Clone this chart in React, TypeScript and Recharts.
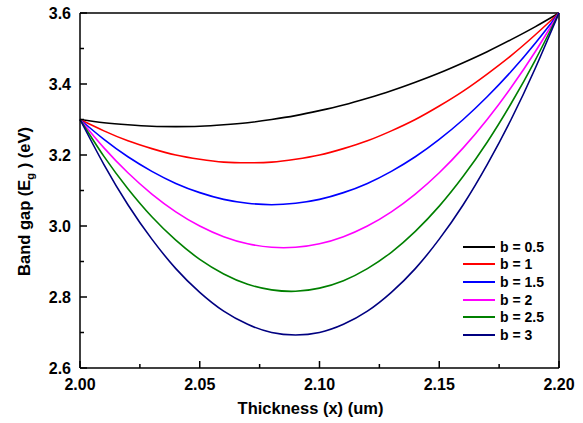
import { LineChart, Line, XAxis, YAxis, Legend, ReferenceLine } from "recharts";

// x positions (um)
const thickness = [
  2.0, 2.01, 2.02, 2.03, 2.04, 2.05, 2.06, 2.07, 2.08, 2.09, 2.1, 2.11, 2.12, 2.13,
  2.14, 2.15, 2.16, 2.17, 2.18, 2.19, 2.2,
];

// band gap (eV)
const b05 = [
  3.3, 3.291, 3.285, 3.281, 3.28, 3.281, 3.285, 3.291, 3.3, 3.311, 3.325, 3.341, 3.36,
  3.381, 3.405, 3.431, 3.46, 3.491, 3.525, 3.561, 3.6,
];
const b1 = [
  3.3, 3.268, 3.24, 3.218, 3.2, 3.188, 3.18, 3.178, 3.18, 3.188, 3.2, 3.218, 3.24,
  3.268, 3.3, 3.338, 3.38, 3.428, 3.48, 3.538, 3.6,
];
const b15 = [
  3.3, 3.244, 3.195, 3.154, 3.12, 3.094, 3.075, 3.064, 3.06, 3.064, 3.075, 3.094, 3.12,
  3.154, 3.195, 3.244, 3.3, 3.364, 3.435, 3.514, 3.6,
];
const b2 = [
  3.3, 3.22, 3.15, 3.09, 3.04, 3.0, 2.97, 2.95, 2.94, 2.94, 2.95, 2.97, 3.0, 3.04,
  3.09, 3.15, 3.22, 3.3, 3.39, 3.49, 3.6,
];
const b25 = [
  3.3, 3.196, 3.105, 3.026, 2.96, 2.906, 2.865, 2.836, 2.82, 2.816, 2.825, 2.846, 2.88,
  2.926, 2.985, 3.056, 3.14, 3.236, 3.345, 3.466, 3.6,
];
const b3 = [
  3.3, 3.173, 3.06, 2.963, 2.88, 2.813, 2.76, 2.723, 2.7, 2.693, 2.7, 2.723, 2.76,
  2.813, 2.88, 2.963, 3.06, 3.173, 3.3, 3.443, 3.6,
];

const xTicks = [2.0, 2.025, 2.05, 2.075, 2.1, 2.125, 2.15, 2.175, 2.2];
const yTicks = [2.6, 2.7, 2.8, 2.9, 3.0, 3.1, 3.2, 3.3, 3.4, 3.5, 3.6];

const series = [
  { key: "b05", name: "b = 0.5", color: "#000000" },
  { key: "b1", name: "b = 1", color: "#ff0000" },
  { key: "b15", name: "b = 1.5", color: "#0000ff" },
  { key: "b2", name: "b = 2", color: "#ff00ff" },
  { key: "b25", name: "b = 2.5", color: "#008000" },
  { key: "b3", name: "b = 3", color: "#000080" },
];

const data = thickness.map((x, i) => ({
  x,
  b05: b05[i],
  b1: b1[i],
  b15: b15[i],
  b2: b2[i],
  b25: b25[i],
  b3: b3[i],
}));

const FONT = "'Liberation Sans', Arial, sans-serif";

const isMajor = (v: number, step: number) => Math.abs(v / step - Math.round(v / step)) < 1e-6;

const XTick = ({ x, y, payload }: any) => {
  const v = payload.value as number;
  const major = isMajor(v, 0.05);
  return (
    <g>
      <line x1={x} x2={x} y1={y} y2={y - (major ? 7 : 4)} stroke="#000" strokeWidth={1.5} />
      {major && (
        <text x={x} y={y + 22} textAnchor="middle" fontFamily={FONT} fontWeight="bold" fontSize={16} fill="#000">
          {v.toFixed(2)}
        </text>
      )}
    </g>
  );
};

const YTick = ({ x, y, payload }: any) => {
  const v = payload.value as number;
  const major = isMajor(v, 0.2);
  return (
    <g>
      <line x1={x} x2={x + (major ? 7 : 4)} y1={y} y2={y} stroke="#000" strokeWidth={1.5} />
      {major && (
        <text x={x - 9} y={y + 6} textAnchor="end" fontFamily={FONT} fontWeight="bold" fontSize={16} fill="#000">
          {v.toFixed(1)}
        </text>
      )}
    </g>
  );
};

const YLabel = ({ viewBox }: any) => {
  const cx = viewBox.x + 30;
  const cy = viewBox.y + viewBox.height / 2 + 11;
  return (
    <text
      x={cx}
      y={cy}
      transform={`rotate(-90, ${cx}, ${cy})`}
      textAnchor="middle"
      fontFamily={FONT}
      fontWeight="bold"
      fontSize={16.5}
      fill="#000"
    >
      Band gap (E
      <tspan fontSize={11} dy={4}>
        g
      </tspan>
      <tspan dy={-4}> ) (eV)</tspan>
    </text>
  );
};

const XLabel = ({ viewBox }: any) => (
  <text
    x={viewBox.x + viewBox.width / 2 - 9}
    y={viewBox.y + 46}
    textAnchor="middle"
    fontFamily={FONT}
    fontWeight="bold"
    fontSize={16.5}
    fill="#000"
  >
    Thickness (x) (um)
  </text>
);

const LegendBox = () => (
  <div style={{ fontFamily: FONT, fontWeight: "bold", fontSize: 14, color: "#000" }}>
    {series.map((s) => (
      <div key={s.key} style={{ display: "flex", alignItems: "center", height: 17.6 }}>
        <span style={{ display: "inline-block", width: 32, height: 2, background: s.color, marginRight: 5 }} />
        <span>{s.name}</span>
      </div>
    ))}
  </div>
);

export default function App() {
  return (
    <div style={{ position: "absolute", left: 0, top: 0, background: "#fff" }}>
      <LineChart width={583} height={423} data={data} margin={{ top: 13, right: 24, left: 0, bottom: 0 }}>
        <XAxis
          dataKey="x"
          type="number"
          domain={[2.0, 2.2]}
          ticks={xTicks}
          tick={<XTick />}
          tickLine={false}
          tickSize={0}
          tickMargin={0}
          height={55}
          axisLine={{ stroke: "#000", strokeWidth: 1.5 }}
          interval={0}
          label={<XLabel />}
        />
        <YAxis
          type="number"
          domain={[2.6, 3.6]}
          ticks={yTicks}
          tick={<YTick />}
          tickLine={false}
          tickSize={0}
          tickMargin={0}
          width={80}
          interval={0}
          axisLine={{ stroke: "#000", strokeWidth: 1.5 }}
          label={<YLabel />}
        />
        <ReferenceLine y={3.6} stroke="#000" strokeWidth={1.5} />
        <ReferenceLine x={2.2} stroke="#000" strokeWidth={1.5} />
        {series.map((s) => (
          <Line
            key={s.key}
            type="natural"
            dataKey={s.key}
            name={s.name}
            stroke={s.color}
            strokeWidth={1.6}
            dot={false}
            isAnimationActive={false}
          />
        ))}
        <Legend
          layout="vertical"
          align="center"
          verticalAlign="middle"
          content={<LegendBox />}
          wrapperStyle={{ position: "absolute", left: 463, top: 238, width: 100 }}
        />
      </LineChart>
    </div>
  );
}
